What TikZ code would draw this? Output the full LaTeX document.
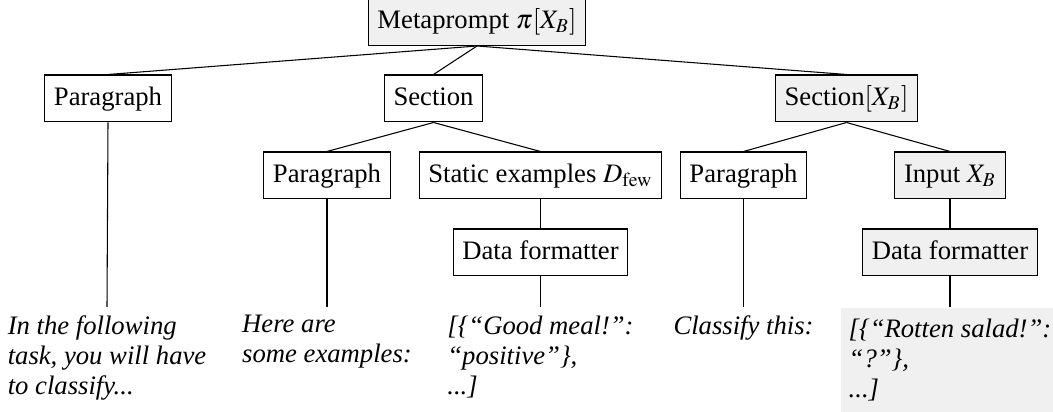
\documentclass[tikz,border=0pt]{standalone}
\usepackage{mathptmx}
\usepackage{fontspec}
\setmainfont{Liberation Serif}
\usepackage{tikz}
\usetikzlibrary{positioning}

\begin{document}
\begin{tikzpicture}[x=0.375pt, y=-0.375pt,
    font=\fontsize{10}{11.25}\selectfont,
    caixa/.style={draw, thin, inner xsep=3.4pt, inner ysep=0pt, minimum height=17.6pt, text height=7pt, text depth=2pt},
    caixacinza/.style={caixa, fill=black!6},
    folha/.style={anchor=north, align=left, inner xsep=3pt, inner ysep=3pt, font=\fontsize{10}{11.25}\selectfont\itshape},
    folhacinza/.style={folha, fill=black!6, minimum height=39.6pt, minimum width=81pt}]
    \useasboundingbox (0,0) rectangle (1053,412);
    % Raiz e secoes
    \node[caixacinza] (meta) at (477,22) {Metaprompt $\pi[X_B]$};
    \node[caixa] (para1) at (108,98.5) {Paragraph};
    \node[caixa] (sec) at (433.5,98.5) {Section};
    \node[caixacinza] (secB) at (846.5,98.5) {Section$[X_B]$};
    % Segundo nivel
    \node[caixa] (para2) at (327,175.5) {Paragraph};
    \node[caixa] (static) at (540.5,175.5) {Static examples $D_{\mathrm{few}}$};
    \node[caixa] (para3) at (743.5,175.5) {Paragraph};
    \node[caixacinza] (input) at (950,175.5) {Input $X_B$};
    % Formatadores
    \node[caixa] (fmt1) at (540.5,252.5) {Data formatter};
    \node[caixacinza] (fmt2) at (950,252.5) {Data formatter};
    % Folhas
    \node[folha] (f1) at (107,307) {In the following\\task, you will have\\to classify...};
    \node[folha] (f2) at (327,307) {Here are\\some examples:};
    \node[folha] (f3) at (540.5,307) {[\{“Good meal!”:\\“positive”\},\\...]};
    \node[folha] (f4) at (743.5,307) {Classify this:};
    \node[folhacinza] (f5) at (950,307) {[\{“Rotten salad!”:\\“?”\},\\...]};
    % Arestas
    \draw[thin] (meta.south) -- (para1.north);
    \draw[thin] (meta.south) -- (sec.north);
    \draw[thin] (meta.south) -- (secB.north);
    \draw[thin] (sec.south) -- (para2.north);
    \draw[thin] (sec.south) -- (static.north);
    \draw[thin] (secB.south) -- (para3.north);
    \draw[thin] (secB.south) -- (input.north);
    \draw[thin] (static.south) -- (fmt1.north);
    \draw[thin] (input.south) -- (fmt2.north);
    \draw[thin] (para1.south) -- (f1.north);
    \draw[thin] (para2.south) -- (f2.north);
    \draw[thin] (fmt1.south) -- (f3.north);
    \draw[thin] (para3.south) -- (f4.north);
    \draw[thin] (fmt2.south) -- (f5.north);
\end{tikzpicture}
\end{document}
